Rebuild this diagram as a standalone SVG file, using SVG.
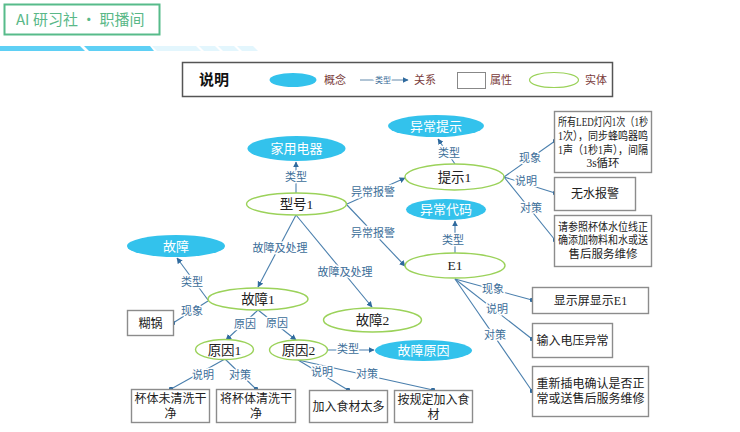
<svg xmlns="http://www.w3.org/2000/svg" width="740" height="432" viewBox="0 0 740 432">
<defs>
<marker id="arr" viewBox="0 0 10 10" refX="9" refY="5" markerWidth="6" markerHeight="6" markerUnits="userSpaceOnUse" orient="auto"><path d="M0,0 L10,5 L0,10 z" fill="#2f6a9e"/></marker>
<marker id="dot" viewBox="0 0 10 10" refX="5" refY="5" markerWidth="4.5" markerHeight="4.5" markerUnits="userSpaceOnUse"><circle cx="5" cy="5" r="5" fill="#2f6a9e"/></marker>
<style>
.cpt{fill:#33c2ec;stroke:none}
.ent{fill:#fff;stroke:#9bd25a;stroke-width:1.4}
.box{fill:#fff;stroke:#8c8c8c;stroke-width:1.4}
.w{fill:#fff;font-family:"Liberation Serif","Noto Sans CJK SC",serif;font-size:13px;text-anchor:middle}
.t{fill:#222;font-family:"Liberation Serif","Noto Sans CJK SC",serif;font-size:13.5px;text-anchor:middle}
.bt{fill:#222;font-family:"Liberation Serif","Noto Sans CJK SC",serif;font-size:12px;text-anchor:middle}
.st{fill:#222;font-family:"Liberation Serif","Noto Sans CJK SC",serif;font-size:11.5px;text-anchor:middle}
.l{fill:#3b6d98;font-family:"Liberation Serif","Noto Sans CJK SC",serif;font-size:11px;text-anchor:middle;stroke:#fff;stroke-width:3;paint-order:stroke;stroke-linejoin:round}
.c{fill:none;stroke:#4a7fad;stroke-width:1.1}
.a{marker-end:url(#arr)}
.d{marker-end:url(#dot)}
.lg{fill:#7a3b3b;font-family:"Noto Sans CJK SC",sans-serif;font-size:11px}
</style>
</defs>
<rect width="740" height="432" fill="#fff"/>
<g id="header">
<rect x="4.5" y="4.5" width="155" height="30" fill="#fff" stroke="#57bb8a" stroke-width="2"/>
<text x="16" y="25" fill="#5ab888" font-family="'Noto Sans CJK SC',sans-serif" font-size="15px">AI 研习社 · 职播间</text>
<polygon points="0,46 80,46 85,51 0,51" fill="#5fd0f5"/>
<polygon points="84,46 150,46 154,51 89,51" fill="#5fd0f5"/>
<polygon points="152,46 196,46 201,51 157,51" fill="#e3f6fd"/>
<polygon points="199,46 215,46 220,51 204,51" fill="#e3f6fd"/>
<polygon points="218,46 234,46 239,51 223,51" fill="#e3f6fd"/>
<polygon points="237,46 253,46 258,51 242,51" fill="#e3f6fd"/>
</g>
<g id="legend">
<rect x="182.5" y="62.5" width="430" height="34" fill="#fff" stroke="#555" stroke-width="1.5"/>
<text x="199" y="85" fill="#111" font-family="'Noto Sans CJK SC',sans-serif" font-size="15px" font-weight="bold">说明</text>
<ellipse cx="293" cy="80" rx="23.5" ry="7" class="cpt"/>
<text x="324" y="84" class="lg">概念</text>
<line x1="360" y1="80" x2="408" y2="80" stroke="#3b6d98" stroke-width="0.8" marker-end="url(#arr)"/>
<text x="383" y="83" fill="#3b6d98" font-family="'Noto Sans CJK SC',sans-serif" font-size="8px" text-anchor="middle" stroke="#fff" stroke-width="3" paint-order="stroke">类型</text>
<text x="414" y="84" class="lg">关系</text>
<rect x="457.5" y="72.5" width="28" height="16" fill="#fff" stroke="#888" stroke-width="1"/>
<text x="490" y="84" class="lg">属性</text>
<ellipse cx="554" cy="80" rx="24.5" ry="7.5" fill="#fff" stroke="#9bd25a" stroke-width="1.2"/>
<text x="585" y="84" class="lg">实体</text>
</g>
<g id="connectors">
<path class="c a" d="M296,193 L296,162"/>
<path class="c a" d="M455,164 L438,139"/>
<path class="c a" d="M455,253 L455,221"/>
<path class="c a" d="M347,204 L405,178"/>
<path class="c a" d="M347,205 L405,266"/>
<path class="c a" d="M296,215 L258,287"/>
<path class="c a" d="M296,215 L372,307"/>
<path class="c a" d="M208,300 L177,258"/>
<path class="c d" d="M208,301 L173,323"/>
<path class="c a" d="M258,310 L226,340"/>
<path class="c a" d="M258,310 L296,340"/>
<path class="c a" d="M327,350 L374,350"/>
<path class="c d" d="M225,359 L171,389"/>
<path class="c d" d="M225,359 L256,389"/>
<path class="c d" d="M298,360 L348,390"/>
<path class="c d" d="M298,360 L433,390"/>
<path class="c d" d="M504,177 L555,141"/>
<path class="c d" d="M504,177 L555,193"/>
<path class="c d" d="M504,177 L555,240"/>
<path class="c d" d="M455,279 L532,300"/>
<path class="c d" d="M455,279 L532,339"/>
<path class="c d" d="M455,279 L532,391"/>
<text class="l" x="296" y="181">类型</text>
<text class="l" x="449" y="157">类型</text>
<text class="l" x="453" y="244">类型</text>
<text class="l" x="373" y="196">异常报警</text>
<text class="l" x="373" y="237">异常报警</text>
<text class="l" x="280" y="252">故障及处理</text>
<text class="l" x="345" y="276">故障及处理</text>
<text class="l" x="192" y="286">类型</text>
<text class="l" x="192" y="315">现象</text>
<text class="l" x="245" y="328">原因</text>
<text class="l" x="277" y="327">原因</text>
<text class="l" x="348" y="353">类型</text>
<text class="l" x="203" y="379">说明</text>
<text class="l" x="240" y="379">对策</text>
<text class="l" x="322" y="376">说明</text>
<text class="l" x="367" y="378">对策</text>
<text class="l" x="530" y="162">现象</text>
<text class="l" x="526" y="185">说明</text>
<text class="l" x="531" y="212">对策</text>
<text class="l" x="493" y="293">现象</text>
<text class="l" x="497" y="313">说明</text>
<text class="l" x="495" y="339">对策</text>
</g>
<g id="n-jiayong"><ellipse class="cpt" cx="296.5" cy="148.5" rx="49" ry="12.5"/><text class="w" x="296.5" y="153">家用电器</text></g>
<g id="n-xinghao1"><ellipse class="ent" cx="296.5" cy="204" rx="50" ry="11"/><text class="t" x="296.5" y="209">型号1</text></g>
<g id="n-yichangtishi"><ellipse class="cpt" cx="436" cy="126" rx="48" ry="11"/><text class="w" x="436" y="131">异常提示</text></g>
<g id="n-tishi1"><ellipse class="ent" cx="454.5" cy="177" rx="49.5" ry="13"/><text class="t" x="454.5" y="182">提示1</text></g>
<g id="n-yichangdaima"><ellipse class="cpt" cx="446" cy="209.5" rx="40" ry="10.5"/><text class="w" x="446" y="214">异常代码</text></g>
<g id="n-e1"><ellipse class="ent" cx="455" cy="265.5" rx="50" ry="12.5"/><text class="t" x="455" y="270">E1</text></g>
<g id="n-guzhang"><ellipse class="cpt" cx="176" cy="246" rx="49" ry="11"/><text class="w" x="176" y="250.5">故障</text></g>
<g id="n-guzhang1"><ellipse class="ent" cx="258" cy="299" rx="50" ry="11"/><text class="t" x="258" y="304">故障1</text></g>
<g id="n-guzhang2"><ellipse class="ent" cx="372.5" cy="320" rx="49" ry="12"/><text class="t" x="372.5" y="325">故障2</text></g>
<g id="n-huguo"><rect class="box" x="127.5" y="310.5" width="46" height="25"/><text class="bt" x="150.5" y="327.5">糊锅</text></g>
<g id="n-yuanyin1"><ellipse class="ent" cx="224.5" cy="349.5" rx="29" ry="10"/><text class="t" x="224.5" y="354.5">原因1</text></g>
<g id="n-yuanyin2"><ellipse class="ent" cx="298.5" cy="350" rx="29" ry="10"/><text class="t" x="298.5" y="355">原因2</text></g>
<g id="n-guzhangyuanyin"><ellipse class="cpt" cx="423.5" cy="350.5" rx="48.5" ry="10.5"/><text class="w" x="423.5" y="355">故障原因</text></g>
<g id="b-beiti"><rect class="box" x="131.5" y="389.5" width="78" height="33"/><text class="bt" x="170.5" y="403">杯体未清洗干</text><text class="bt" x="170.5" y="418">净</text></g>
<g id="b-jiang"><rect class="box" x="216.5" y="389.5" width="79" height="33"/><text class="bt" x="256" y="403">将杯体清洗干</text><text class="bt" x="256" y="418">净</text></g>
<g id="b-jiaru"><rect class="box" x="309.5" y="390.5" width="78" height="32"/><text class="bt" x="348.5" y="411">加入食材太多</text></g>
<g id="b-anguiding"><rect class="box" x="394.5" y="390.5" width="78" height="32"/><text class="bt" x="433.5" y="404">按规定加入食</text><text class="bt" x="433.5" y="419">材</text></g>
<g id="b-led"><rect class="box" x="554.5" y="111.5" width="97" height="61"/><text class="st" x="603" y="126" textLength="90" lengthAdjust="spacingAndGlyphs">所有LED灯闪1次（1秒</text><text class="st" x="603" y="140" textLength="90" lengthAdjust="spacingAndGlyphs">1次），同步蜂鸣器鸣</text><text class="st" x="603" y="154" textLength="90" lengthAdjust="spacingAndGlyphs">1声（1秒1声），间隔</text><text class="st" x="603" y="167">3s循环</text></g>
<g id="b-wushui"><rect class="box" x="554.5" y="177.5" width="81" height="33"/><text class="bt" x="595" y="198">无水报警</text></g>
<g id="b-qingcan"><rect class="box" x="554.5" y="215.5" width="97" height="51"/><text class="st" x="603" y="231" textLength="90" lengthAdjust="spacingAndGlyphs">请参照杯体水位线正</text><text class="st" x="603" y="244" textLength="90" lengthAdjust="spacingAndGlyphs">确添加物料和水或送</text><text class="st" x="603" y="258">售后服务维修</text></g>
<g id="b-xianshi"><rect class="box" x="532.5" y="287.5" width="116" height="26"/><text class="bt" x="590.5" y="305">显示屏显示E1</text></g>
<g id="b-shuru"><rect class="box" x="532.5" y="323.5" width="80" height="34"/><text class="bt" x="572.5" y="345">输入电压异常</text></g>
<g id="b-chongxin"><rect class="box" x="532.5" y="366.5" width="116" height="50"/><text class="bt" x="590.5" y="388">重新插电确认是否正</text><text class="bt" x="590.5" y="403">常或送售后服务维修</text></g>
</svg>
